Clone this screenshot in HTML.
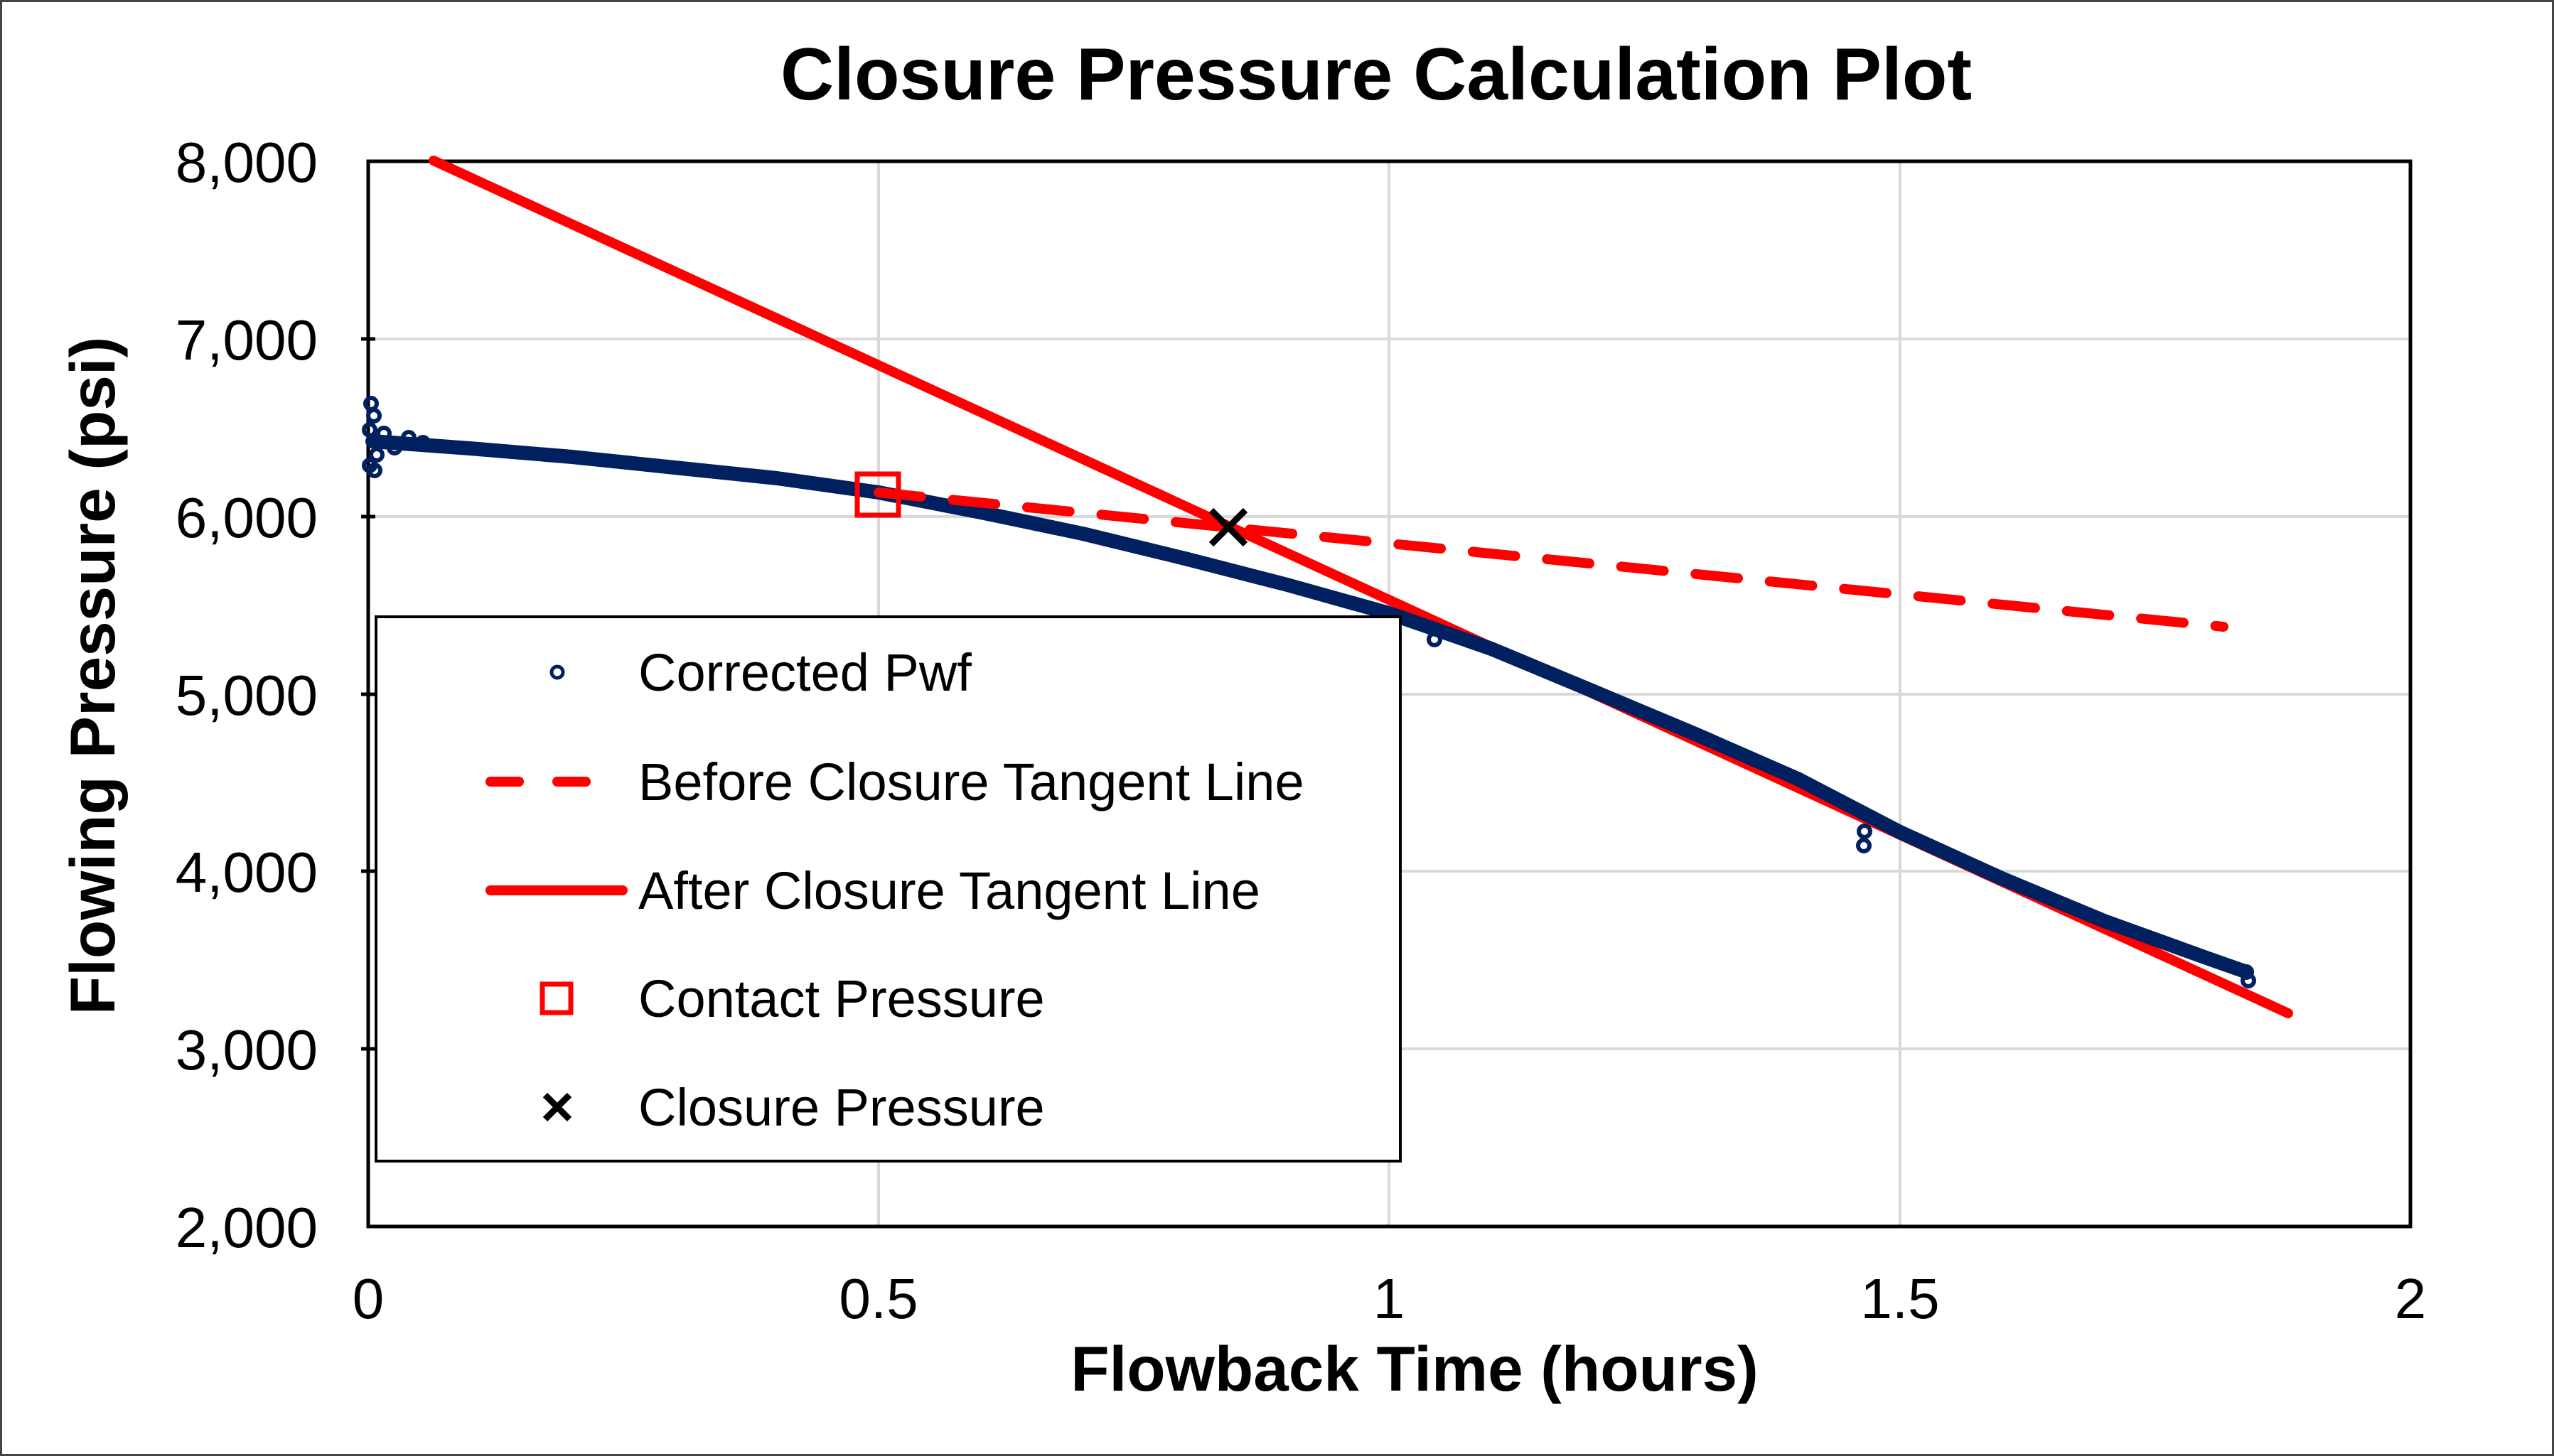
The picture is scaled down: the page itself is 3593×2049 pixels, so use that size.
<!DOCTYPE html>
<html><head><meta charset="utf-8"><style>
html,body{margin:0;padding:0;background:#fff}
svg{display:block}
text{font-family:"Liberation Sans",Arial,sans-serif}
</style></head><body>
<svg width="3593" height="2049" viewBox="0 0 3593 2049" xmlns="http://www.w3.org/2000/svg">
<rect x="1.5" y="1.5" width="3590" height="2046" fill="#fff" stroke="#444" stroke-width="3"/>
<text x="1936" y="140" font-size="104" font-weight="bold" text-anchor="middle">Closure Pressure Calculation Plot</text>
<g stroke="#d9d9d9" stroke-width="4">
<line x1="518" y1="477" x2="3391" y2="477"/>
<line x1="518" y1="727" x2="3391" y2="727"/>
<line x1="518" y1="977" x2="3391" y2="977"/>
<line x1="518" y1="1226" x2="3391" y2="1226"/>
<line x1="518" y1="1476" x2="3391" y2="1476"/>
<line x1="1236" y1="227" x2="1236" y2="1726"/>
<line x1="1954" y1="227" x2="1954" y2="1726"/>
<line x1="2673" y1="227" x2="2673" y2="1726"/>
</g>
<rect x="518" y="227" width="2873" height="1499" fill="none" stroke="#000" stroke-width="5"/>
<g stroke="#000" stroke-width="5">
<line x1="508" y1="477" x2="528" y2="477"/><line x1="508" y1="727" x2="528" y2="727"/>
<line x1="508" y1="977" x2="528" y2="977"/><line x1="508" y1="1226" x2="528" y2="1226"/>
<line x1="508" y1="1476" x2="528" y2="1476"/>
</g>
<g font-size="80" text-anchor="end">
<text x="447" y="256">8,000</text><text x="447" y="506">7,000</text>
<text x="447" y="756">6,000</text><text x="447" y="1006">5,000</text>
<text x="447" y="1255">4,000</text><text x="447" y="1505">3,000</text>
<text x="447" y="1755">2,000</text>
</g>
<g font-size="80" text-anchor="middle">
<text x="518" y="1855">0</text><text x="1236" y="1855">0.5</text>
<text x="1954" y="1855">1</text><text x="2673" y="1855">1.5</text>
<text x="3391" y="1855">2</text>
</g>
<text x="1990" y="1957" font-size="89" font-weight="bold" text-anchor="middle">Flowback Time (hours)</text>
<text transform="translate(161,951) rotate(-90)" font-size="89" font-weight="bold" text-anchor="middle">Flowing Pressure (psi)</text>
<line x1="610" y1="226" x2="3219" y2="1426" stroke="#ff0000" stroke-width="14" stroke-linecap="round"/>
<polyline fill="none" stroke="#002060" stroke-width="20" stroke-linejoin="round" stroke-linecap="round"
points="524,621 661,631 805,643 949,658 1093,673 1236,693 1380,721 1523,751 1667,786 1811,823 1954,863 2098,913 2242,973 2385,1033 2529,1096 2673,1171 2816,1236 2960,1296 3104,1348 3161,1368"/>
<g fill="none" stroke="#002060" stroke-width="6">
<circle cx="522" cy="568" r="8"/><circle cx="526" cy="585" r="8"/><circle cx="520" cy="605" r="8"/>
<circle cx="530" cy="640" r="8"/><circle cx="520" cy="655" r="8"/><circle cx="527" cy="662" r="8"/>
<circle cx="540" cy="610" r="8"/><circle cx="555" cy="630" r="8"/><circle cx="575" cy="616" r="8"/>
<circle cx="595" cy="623" r="8"/><circle cx="2018" cy="900" r="8"/><circle cx="2622" cy="1190" r="8"/>
<circle cx="2623" cy="1170" r="8"/><circle cx="3163" cy="1380" r="8"/><circle cx="3160" cy="1368" r="8"/>
</g>
<line x1="1236" y1="693" x2="3128" y2="882" stroke="#ff0000" stroke-width="14" stroke-dasharray="60,45" stroke-linecap="round"/>
<rect x="1206" y="667" width="58" height="58" fill="none" stroke="#ff0000" stroke-width="7"/>
<g stroke="#000" stroke-width="9"><line x1="1704" y1="718" x2="1752" y2="766"/><line x1="1752" y1="718" x2="1704" y2="766"/></g>
<rect x="529" y="868" width="1441" height="766" fill="#fff" stroke="#000" stroke-width="4"/>
<circle cx="784" cy="946" r="8" fill="none" stroke="#002060" stroke-width="5"/>
<line x1="690" y1="1100" x2="730" y2="1100" stroke="#ff0000" stroke-width="14" stroke-linecap="round"/>
<line x1="784" y1="1100" x2="824" y2="1100" stroke="#ff0000" stroke-width="14" stroke-linecap="round"/>
<line x1="690" y1="1253" x2="876" y2="1253" stroke="#ff0000" stroke-width="14" stroke-linecap="round"/>
<rect x="763" y="1385" width="40" height="40" fill="none" stroke="#ff0000" stroke-width="7"/>
<g stroke="#000" stroke-width="9"><line x1="767" y1="1541" x2="801" y2="1575"/><line x1="801" y1="1541" x2="767" y2="1575"/></g>
<g font-size="74">
<text x="898" y="972">Corrected Pwf</text>
<text x="898" y="1126">Before Closure Tangent Line</text>
<text x="898" y="1279">After Closure Tangent Line</text>
<text x="898" y="1431">Contact Pressure</text>
<text x="898" y="1584">Closure Pressure</text>
</g>
</svg>
</body></html>
